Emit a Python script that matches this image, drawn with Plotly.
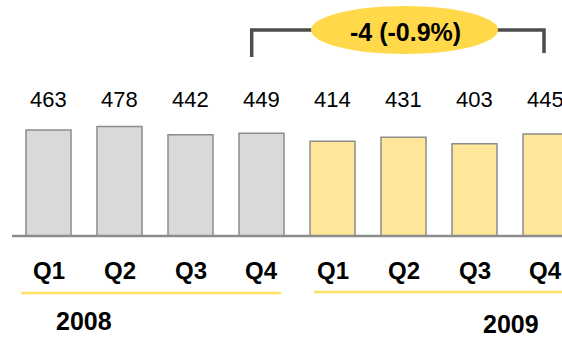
import plotly.graph_objects as go

# Quarterly figures, 2008 vs 2009
quarters = ["Q1", "Q2", "Q3", "Q4"]
years = ["2008", "2009"]
values_2008 = [463, 478, 442, 449]
values_2009 = [414, 431, 403, 445]

W, H = 562, 337
FONT = "Liberation Sans, Arial, sans-serif"

# pixel helpers for paper coordinates (plot area fills the whole figure)
def px(x):
    return x / W

def py(y):
    return 1 - y / H

x_2008 = list(range(0, 4))
x_2009 = list(range(4, 8))

fig = go.Figure()
fig.add_trace(go.Bar(
    x=x_2008, y=values_2008, width=0.634,
    marker=dict(color="#D9D9D9", line=dict(color="#8C8C8C", width=1.5)),
    hoverinfo="skip", showlegend=False,
))
fig.add_trace(go.Bar(
    x=x_2009, y=values_2009, width=0.634,
    marker=dict(color="#FFE699", line=dict(color="#8C8C8C", width=1.5)),
    hoverinfo="skip", showlegend=False,
))

annotations = []
# value labels above the bars
for xs, vals in ((x_2008, values_2008), (x_2009, values_2009)):
    for x, v in zip(xs, vals):
        annotations.append(dict(
            x=x, y=py(99), xref="x", yref="paper", text=str(v), showarrow=False,
            font=dict(family=FONT, size=22, color="#000000"),
            xanchor="center", yanchor="middle",
        ))
# quarter labels
for xs in (x_2008, x_2009):
    for x, q in zip(xs, quarters):
        annotations.append(dict(
            x=x, y=py(270), xref="x", yref="paper", text=f"<b>{q}</b>", showarrow=False,
            font=dict(family=FONT, size=24, color="#000000"),
            xanchor="center", yanchor="middle",
        ))
# year labels
for (cx, cy), yr in zip(((83.5, 321), (511, 324)), years):
    annotations.append(dict(
        x=px(cx), y=py(cy), xref="paper", yref="paper", text=f"<b>{yr}</b>",
        showarrow=False, font=dict(family=FONT, size=25, color="#000000"),
        xanchor="center", yanchor="middle",
    ))

# Q4 year-over-year change
diff = values_2009[3] - values_2008[3]
pct = diff / values_2008[3] * 100
annotations.append(dict(
    x=px(405), y=py(32), xref="paper", yref="paper",
    text=f"<b>{diff:d} ({pct:.1f}%)</b>", showarrow=False,
    font=dict(family=FONT, size=25, color="#000000"),
    xanchor="center", yanchor="middle",
))

shapes = [
    # baseline
    dict(type="line", xref="paper", yref="y", x0=px(12), x1=1.0, y0=0, y1=0,
         line=dict(color="#8C8C8C", width=2.5), layer="above"),
    # year underlines
    dict(type="line", xref="paper", yref="paper", x0=px(21), x1=px(281),
         y0=py(293), y1=py(293), line=dict(color="#FFE066", width=2.5)),
    dict(type="line", xref="paper", yref="paper", x0=px(314), x1=1.0,
         y0=py(292), y1=py(292), line=dict(color="#FFE066", width=2.5)),
    # bracket linking Q4 2008 and Q4 2009
    dict(type="path", xref="paper", yref="paper",
         path=(f"M {px(251.7)},{py(57)} L {px(251.7)},{py(30)} "
               f"L {px(544)},{py(30)} L {px(544)},{py(53)}"),
         line=dict(color="#4D4D4D", width=3.5)),
    # highlight ellipse behind the change label
    dict(type="circle", xref="paper", yref="paper",
         x0=px(311), x1=px(498), y0=py(54), y1=py(6),
         fillcolor="#FFD94A", line=dict(width=0)),
]

fig.update_layout(
    width=W, height=H,
    margin=dict(l=0, r=0, t=0, b=0),
    paper_bgcolor="white", plot_bgcolor="white",
    xaxis=dict(range=[-0.683, 7.232], visible=False, fixedrange=True),
    yaxis=dict(range=[-441.0, 1030.6], visible=False, fixedrange=True),
    annotations=annotations,
    shapes=shapes,
    barmode="overlay",
)

fig.write_html("out.html", config={"displayModeBar": False})
